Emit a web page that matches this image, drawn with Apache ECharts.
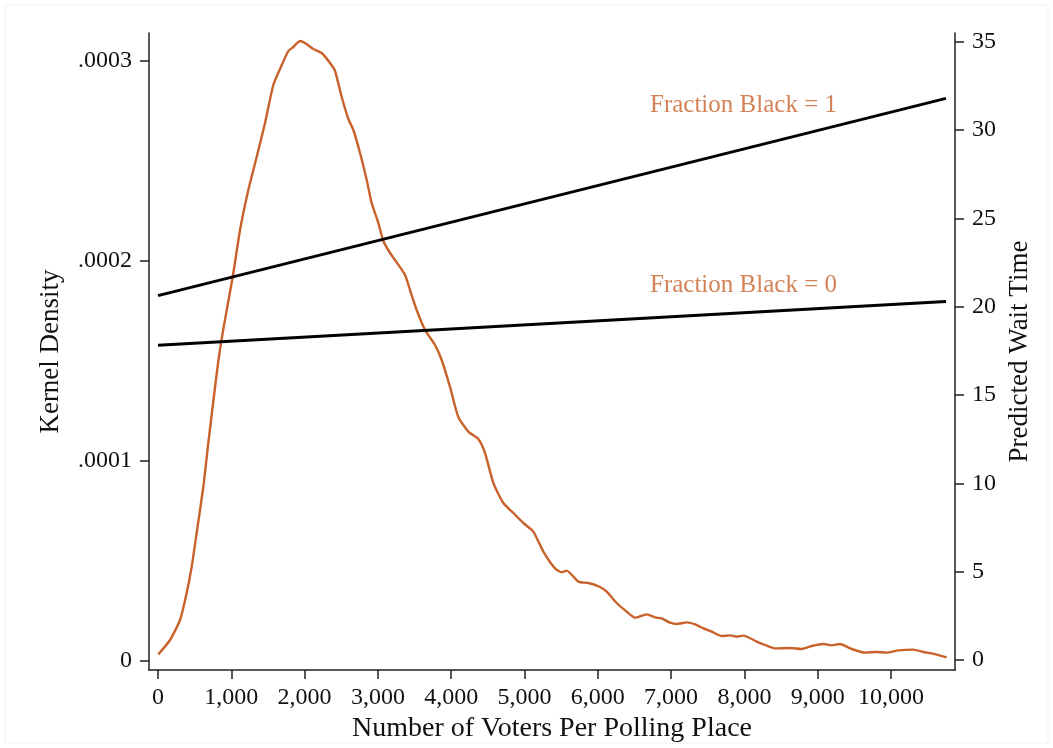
<!DOCTYPE html>
<html>
<head>
<meta charset="utf-8">
<script src="https://cdn.jsdelivr.net/npm/echarts@6/dist/echarts.min.js"></script>
<style>
  html, body { margin: 0; padding: 0; background: #fff; }
  #main { width: 1053px; height: 748px; }
</style>
</head>
<body>
<div id="main"></div>
<script>
// kernel density of voters per polling place (density in units of 1e-4)
var voters = [4, 164, 300, 391, 459, 527, 618, 686, 755, 823, 891, 1019, 1119, 1232, 1346, 1460, 1573, 1664,
  1778, 1846, 1937, 2005, 2119, 2233, 2347, 2415, 2506, 2597, 2665, 2756, 2847, 2915, 3006, 3074, 3165,
  3233, 3370, 3438, 3529, 3643, 3779, 3870, 3984, 4097, 4234, 4370, 4461, 4575, 4711, 4848, 4984, 5120,
  5257, 5416, 5507, 5575, 5734, 5871, 6030, 6121, 6258, 6394, 6507, 6667, 6780, 6871, 6985, 7076, 7213,
  7326, 7440, 7554, 7690, 7804, 7895, 7985, 8168, 8281, 8417, 8622, 8781, 8917, 9076, 9190, 9304, 9463,
  9645, 9804, 9940, 10099, 10304, 10440, 10554, 10759];
var densityE4 = [0.033, 0.105, 0.205, 0.34, 0.47, 0.64, 0.87, 1.09, 1.30, 1.50, 1.66, 1.92, 2.155, 2.355, 2.52, 2.69, 2.88, 2.96,
  3.05, 3.07, 3.10, 3.09, 3.06, 3.04, 2.99, 2.95, 2.82, 2.71, 2.655, 2.54, 2.405, 2.29, 2.19, 2.10, 2.04,
  2.005, 1.93, 1.855, 1.755, 1.655, 1.58, 1.505, 1.37, 1.22, 1.147, 1.11, 1.04, 0.89, 0.79, 0.74, 0.69, 0.647,
  0.547, 0.463, 0.443, 0.452, 0.397, 0.39, 0.37, 0.347, 0.29, 0.247, 0.217, 0.233, 0.218, 0.213, 0.192, 0.185, 0.193,
  0.183, 0.163, 0.147, 0.125, 0.128, 0.122, 0.127, 0.097, 0.08, 0.063, 0.065, 0.06, 0.075, 0.085, 0.078, 0.085, 0.06,
  0.042, 0.045, 0.042, 0.053, 0.057, 0.045, 0.038, 0.018];

// predicted wait time lines
var lineX = [0, 10750];
var waitBlack1 = [20.63, 31.8];
var waitBlack0 = [17.82, 20.29];

var lineLabels = ['Fraction Black = 1', 'Fraction Black = 0'];
var labelPos = [[6712, 31.4], [6712, 21.2]];

var xTicks = [0, 1000, 2000, 3000, 4000, 5000, 6000, 7000, 8000, 9000, 10000];
var densityTicks = [0, 0.0001, 0.0002, 0.0003];
var waitTicks = [0, 5, 10, 15, 20, 25, 30, 35];

var orange = '#c8622a';
var font = '"Liberation Serif", "DejaVu Serif", serif';

var densityData = voters.map(function (v, i) { return [v, densityE4[i] * 1e-4]; });
var black1Data = lineX.map(function (v, i) { return [v, waitBlack1[i]]; });
var black0Data = lineX.map(function (v, i) { return [v, waitBlack0[i]]; });

var axisLine = { show: true, onZero: false, lineStyle: { color: '#222', width: 1.5 } };
var axisTickBase = { show: true, length: 9, inside: false, lineStyle: { color: '#222', width: 1.5 } };

var chart = echarts.init(document.getElementById('main'));
chart.setOption({
  animation: false,
  backgroundColor: '#fff',
  grid: { left: 149, right: 98, top: 33, bottom: 78, containLabel: false },
  graphic: [{
    type: 'rect', shape: { x: 5, y: 5, width: 1043, height: 738 },
    style: { fill: 'none', stroke: '#f2f2f2', lineWidth: 1 }, silent: true
  }],
  xAxis: {
    type: 'value', min: -123, max: 10873,
    name: 'Number of Voters Per Polling Place', nameLocation: 'middle', nameGap: 42,
    nameTextStyle: { fontFamily: font, fontSize: 28, color: '#111' },
    axisLine: axisLine,
    axisTick: Object.assign({ customValues: xTicks }, axisTickBase),
    axisLabel: {
      customValues: xTicks, margin: 16, fontFamily: font, fontSize: 24, color: '#111',
      formatter: function (v) { return v.toLocaleString('en-US'); }
    },
    splitLine: { show: false }
  },
  yAxis: [{
    type: 'value', position: 'left', min: -0.0000045, max: 0.000314,
    name: 'Kernel Density', nameLocation: 'middle', nameGap: 85,
    nameTextStyle: { fontFamily: font, fontSize: 27, color: '#111' },
    axisLine: axisLine,
    axisTick: Object.assign({ customValues: densityTicks }, axisTickBase),
    axisLabel: {
      customValues: densityTicks, margin: 17, fontFamily: font, fontSize: 24, color: '#111',
      formatter: function (v) { return v === 0 ? '0' : String(v).replace(/^0\./, '.'); }
    },
    splitLine: { show: false }
  }, {
    type: 'value', position: 'right', min: -0.57, max: 35.5,
    name: 'Predicted Wait Time', nameLocation: 'middle', nameGap: 49,
    nameTextStyle: { fontFamily: font, fontSize: 27, color: '#111' },
    axisLine: axisLine,
    axisTick: Object.assign({ customValues: waitTicks }, axisTickBase),
    axisLabel: {
      customValues: waitTicks, margin: 17, fontFamily: font, fontSize: 24, color: '#111'
    },
    splitLine: { show: false }
  }],
  series: [{
    name: 'Kernel Density', type: 'line', yAxisIndex: 0, data: densityData,
    smooth: 0.2, showSymbol: false, lineStyle: { color: orange, width: 2.4 }
  }, {
    name: 'Fraction Black = 1', type: 'line', yAxisIndex: 1, data: black1Data,
    showSymbol: false, lineStyle: { color: '#000', width: 3 }
  }, {
    name: 'Fraction Black = 0', type: 'line', yAxisIndex: 1, data: black0Data,
    showSymbol: false, lineStyle: { color: '#000', width: 3 }
  }, {
    type: 'scatter', yAxisIndex: 1, symbolSize: 0, silent: true,
    data: labelPos.map(function (p, i) { return { value: p, name: lineLabels[i] }; }),
    label: {
      show: true, position: 'right', distance: 0,
      formatter: function (p) { return p.name; },
      fontFamily: font, fontSize: 25, color: orange
    }
  }]
});
</script>
</body>
</html>
